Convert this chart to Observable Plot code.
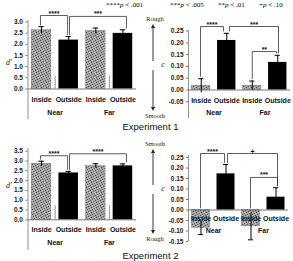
<!DOCTYPE html>
<html>
<head>
<meta charset="utf-8">
<script src="https://cdn.jsdelivr.net/npm/d3@7"></script>
<script src="https://cdn.jsdelivr.net/npm/@observablehq/plot@0.6"></script>
<style>
  body { margin: 0; background: #fff; }
  #chart { position: relative; width: 293px; height: 261px; overflow: hidden; background: #fff; }
  #chart > svg { position: absolute; left: 0; top: 0; }
  .note { position: absolute; white-space: pre; color: #000; }
  .legend { font-family: "Liberation Serif", "DejaVu Serif", serif; font-size: 7px; top: 1px; }
  .legend i { font-style: italic; }
  .exp { font-family: "Liberation Sans", Arial, sans-serif; font-size: 9.5px; width: 293px; text-align: center; left: 4px; color: #111; }
</style>
</head>
<body>
<svg width="0" height="0" style="position:absolute">
  <defs>
    <pattern id="speckle" width="5" height="5" patternUnits="userSpaceOnUse">
      <rect width="5" height="5" fill="#a2a2a2"/>
      <rect x="0" y="0" width="1" height="1" fill="#505050"/>
      <rect x="3" y="1" width="1" height="1" fill="#606060"/>
      <rect x="1" y="2" width="1" height="1" fill="#444"/>
      <rect x="4" y="3" width="1" height="1" fill="#6a6a6a"/>
      <rect x="2" y="4" width="1" height="1" fill="#585858"/>
      <rect x="2" y="0" width="1" height="1" fill="#bdbdbd"/>
      <rect x="4" y="2" width="1" height="1" fill="#c4c4c4"/>
      <rect x="0" y="3" width="1" height="1" fill="#bbb"/>
    </pattern>
  </defs>
</svg>
<div id="chart"></div>
<script>
// Conditions shared by every panel
const conditions = ["Inside", "Outside", "Inside", "Outside"];
const distances = ["Near", "Near", "Far", "Far"];
const groupNames = ["Near", "Far"];

// Experiment 1: sensitivity (d') and criterion (c)
const exp1DPrime = [2.63, 2.19, 2.60, 2.49];
const exp1DPrimeErr = [0.16, 0.16, 0.13, 0.16];
const exp1Criterion = [0.018, 0.21, 0.018, 0.117];
const exp1CriterionErr = [0.03, 0.03, 0.02, 0.03];

// Experiment 2: sensitivity (d') and criterion (c)
const exp2DPrime = [2.86, 2.39, 2.74, 2.75];
const exp2DPrimeErr = [0.13, 0.08, 0.12, 0.10];
const exp2Criterion = [-0.085, 0.172, -0.078, 0.061];
const exp2CriterionErr = [0.032, 0.045, 0.064, 0.045];

// Axis ticks
const exp1DPrimeTicks = [0, 0.5, 1.0, 1.5, 2.0, 2.5, 3.0];
const exp2DPrimeTicks = [0, 0.5, 1.0, 1.5, 2.0, 2.5, 3.0, 3.5];
const exp1CriterionTicks = [-0.05, 0, 0.05, 0.10, 0.15, 0.20, 0.25];
const exp2CriterionTicks = [-0.15, -0.10, -0.05, 0, 0.05, 0.10, 0.15, 0.20, 0.25];

// Significance brackets (bar indices, bracket height, star label)
const exp1DPrimeSig = [
  {from: 0, to: 1, level: 3.29, label: "****", shiftFrom: -0.04, shiftTo: -0.04},
  {from: 1, to: 3, level: 3.25, label: "***", shiftFrom: 0.03, shiftTo: 0.13}
];
const exp1CriterionSig = [
  {from: 0, to: 1, level: 0.269, label: "****", shiftFrom: -0.03, shiftTo: -0.13},
  {from: 1, to: 3, level: 0.269, label: "***", shiftFrom: 0.11, shiftTo: 0.03},
  {from: 2, to: 3, level: 0.163, label: "**", shiftFrom: 0.0, shiftTo: -0.05}
];
const exp2DPrimeSig = [
  {from: 0, to: 1, level: 3.27, label: "****", shiftFrom: -0.04, shiftTo: -0.04},
  {from: 1, to: 3, level: 3.37, label: "****", shiftFrom: 0.03, shiftTo: 0.13}
];
const exp2CriterionSig = [
  {from: 0, to: 1, level: 0.269, label: "****", shiftFrom: -0.02, shiftTo: -0.06},
  {from: 1, to: 3, level: 0.269, label: "+", shiftFrom: 0.06, shiftTo: 0.06},
  {from: 2, to: 3, level: 0.155, label: "***", shiftFrom: -0.02, shiftTo: 0.06}
];

// Significance key
const keyStars = ["****", "***", "**", "+"];
const keyLevels = [" < .001", " < .005", " < .01", " < .10"];

const W = 293, H = 261;
const sans = '"Liberation Sans Narrow", "Liberation Sans", Arial, sans-serif';
const serif = '"Liberation Serif", "DejaVu Serif", serif';

// Vertical word-and-arrow label used on the criterion axes
function criterionLabel(topWord, bottomWord) {
  return (index, scales, values, dims) => {
    const g = d3.create("svg:g").attr("fill", "#222").attr("stroke", "none");
    const x = dims.marginLeft - 35;
    const y0 = dims.marginTop - 6;
    const y1 = dims.height - dims.marginBottom - 8;
    const ym = (y0 + y1) / 2 - 2;
    g.append("text").attr("x", x + 2).attr("y", y0 - 3).attr("text-anchor", "middle")
      .attr("font-family", serif).attr("font-size", 6.5).text(topWord);
    g.append("text").attr("x", x + 2).attr("y", y1 + 8).attr("text-anchor", "middle")
      .attr("font-family", serif).attr("font-size", 6.5).text(bottomWord);
    g.append("text").attr("x", x + 10).attr("y", ym + 2).attr("text-anchor", "middle")
      .attr("font-family", serif).attr("font-style", "italic").attr("font-size", 8).text("c");
    const line = g.append("g").attr("stroke", "#222").attr("stroke-width", 0.9);
    line.append("line").attr("x1", x).attr("x2", x).attr("y1", y0 + 3).attr("y2", ym - 4);
    line.append("line").attr("x1", x).attr("x2", x).attr("y1", ym + 5).attr("y2", y1 - 2);
    g.append("path").attr("d", `M${x - 2},${y0 + 4}L${x},${y0}L${x + 2},${y0 + 4}Z`);
    g.append("path").attr("d", `M${x - 2},${y1 - 3}L${x},${y1 + 1}L${x + 2},${y1 - 3}Z`);
    return g.node();
  };
}

function barPanel(cfg) {
  const rows = cfg.values.map((v, i) => ({
    i, condition: conditions[i], distance: distances[i],
    value: v, err: cfg.errors[i], x: i + 0.5
  }));
  const dir = d => (d.value >= 0 ? 1 : -1);
  const outer = d => d.value + dir(d) * d.err;
  const inner = d => d.value - dir(d) * d.err;
  const legEnd = i => {
    const d = rows[i];
    return (d.value > 0 ? d.value + d.err : 0) + cfg.gap;
  };
  const bracketPts = cfg.brackets.flatMap((b, k) => {
    const xa = b.from + 0.5 + b.shiftFrom, xb = b.to + 0.5 + b.shiftTo;
    return [
      {k, x: xa, y: legEnd(b.from)},
      {k, x: xa, y: b.level},
      {k, x: xb, y: b.level},
      {k, x: xb, y: legEnd(b.to)}
    ];
  });
  const bracketLabels = cfg.brackets.map(b => ({
    x: (b.from + 0.5 + b.shiftFrom + b.to + 0.5 + b.shiftTo) / 2,
    y: b.level, label: b.label
  }));
  const groups = groupNames.map((name, j) => ({name, x: j * 2 + 1}));
  const half = 0.36;

  const marks = [
    // bars
    Plot.rectY(rows.filter(d => d.condition === "Inside"), {
      x1: d => d.x - half, x2: d => d.x + half, y1: 0, y2: "value",
      fill: "url(#speckle)", stroke: "#666", strokeWidth: 0.4
    }),
    Plot.rectY(rows.filter(d => d.condition === "Outside"), {
      x1: d => d.x - half, x2: d => d.x + half, y1: 0, y2: "value", fill: "#000"
    }),
    // error bars
    Plot.ruleX(rows, {x: "x", y1: inner, y2: outer, stroke: "#000", strokeWidth: 1}),
    Plot.ruleY(rows, {y: outer, x1: d => d.x - 0.1, x2: d => d.x + 0.1, stroke: "#000", strokeWidth: 1}),
    // baseline, axis line and category dividers
    Plot.ruleY([0], {stroke: "#555", strokeWidth: 0.8}),
    Plot.ruleX([0], {stroke: "#777", strokeWidth: 0.8}),
    Plot.ruleX([2, 4], {y1: 0, stroke: "#777", strokeWidth: 0.8}),
    Plot.axisY(cfg.ticks, {
      tickSize: 2, tickPadding: 3, tickFormat: cfg.format, label: null,
      fontSize: 6.5, fontWeight: "bold", fontFamily: sans, stroke: "#777", fill: "#222"
    }),
    // category and distance labels
    Plot.text(rows, {
      x: "x", text: "condition", frameAnchor: "bottom", dy: cfg.catDy, lineAnchor: "middle",
      fontSize: 7, fontWeight: "bold", fontFamily: sans, fill: "#111"
    }),
    Plot.text(groups, {
      x: "x", text: "name", frameAnchor: "bottom", dy: cfg.groupDy, lineAnchor: "middle",
      fontSize: 7, fontWeight: "bold", fontFamily: sans, fill: "#111"
    }),
    // significance brackets
    Plot.line(bracketPts, {x: "x", y: "y", z: "k", stroke: "#333", strokeWidth: 0.8, curve: "linear"}),
    Plot.text(bracketLabels, {
      x: "x", y: "y", text: "label", dy: 0, lineAnchor: "bottom",
      fontSize: 7, fontWeight: "bold", fontFamily: sans, fill: "#111"
    })
  ];
  if (cfg.innerDividers) {
    marks.push(Plot.ruleX([1, 3], {y1: 0, insetBottom: cfg.innerInset, stroke: "#777", strokeWidth: 0.8}));
  }
  if (cfg.yLabel) {
    marks.push(Plot.text([cfg.yLabel], {
      frameAnchor: "left", y: cfg.yLabelAt, dx: -22, text: d => d,
      fontSize: 8, fontStyle: "italic", fontFamily: serif, fill: "#222"
    }));
  }
  if (cfg.arrowWords) marks.push(criterionLabel(...cfg.arrowWords));

  return Plot.plot({
    width: W, height: H,
    marginLeft: cfg.xRange[0], marginRight: W - cfg.xRange[1],
    marginTop: cfg.frameTop, marginBottom: H - cfg.frameBottom,
    style: {background: "transparent", overflow: "visible"},
    x: {type: "linear", domain: [0, 4], range: cfg.xRange, axis: null},
    y: {type: "linear", domain: cfg.yDomain, range: cfg.yRange},
    marks
  });
}

const chart = document.getElementById("chart");

chart.append(barPanel({
  values: exp1DPrime, errors: exp1DPrimeErr, brackets: exp1DPrimeSig,
  ticks: exp1DPrimeTicks, format: d3.format(".1f"),
  xRange: [27.5, 136], yDomain: [0, 3], yRange: [88.5, 21.5],
  frameTop: 20, frameBottom: 119, gap: 0.08,
  innerDividers: true, innerInset: 13, catDy: -20, groupDy: -7,
  yLabel: "d'", yLabelAt: 1.2
}));

chart.append(barPanel({
  values: exp1Criterion, errors: exp1CriterionErr, brackets: exp1CriterionSig,
  ticks: exp1CriterionTicks, format: d => d3.format(".2f")(d).replace("−", "-"),
  xRange: [188, 290], yDomain: [0, 0.25], yRange: [89.5, 30.5],
  frameTop: 30, frameBottom: 118, gap: 0.01,
  innerDividers: false, catDy: -18, groupDy: -6,
  arrowWords: ["Rough", "Smooth"]
}));

chart.append(barPanel({
  values: exp2DPrime, errors: exp2DPrimeErr, brackets: exp2DPrimeSig,
  ticks: exp2DPrimeTicks, format: d3.format(".1f"),
  xRange: [27.5, 136], yDomain: [0, 3.5], yRange: [219.3, 150.7],
  frameTop: 148, frameBottom: 250, gap: 0.1,
  innerDividers: true, innerInset: 14, catDy: -21, groupDy: -8,
  yLabel: "d'", yLabelAt: 1.75
}));

chart.append(barPanel({
  values: exp2Criterion, errors: exp2CriterionErr, brackets: exp2CriterionSig,
  ticks: exp2CriterionTicks, format: d => d3.format(".2f")(d).replace("−", "-"),
  xRange: [188, 288], yDomain: [0, 0.25], yRange: [209.5, 157],
  frameTop: 155, frameBottom: 241, gap: 0.01,
  innerDividers: false, catDy: -23, groupDy: -11,
  arrowWords: ["Smooth", "Rough"]
}));

// Significance key and experiment titles
const keyLefts = [106, 170, 218, 259];
keyStars.forEach((stars, j) => {
  const el = document.createElement("div");
  el.className = "note legend";
  el.style.left = keyLefts[j] + "px";
  el.innerHTML = `${stars}<i>p</i>${keyLevels[j]}`;
  chart.append(el);
});
const titles = [{text: "Experiment 1", top: 121}, {text: "Experiment 2", top: 250}];
for (const t of titles) {
  const el = document.createElement("div");
  el.className = "note exp";
  el.style.top = t.top + "px";
  el.textContent = t.text;
  chart.append(el);
}
</script>
</body>
</html>
